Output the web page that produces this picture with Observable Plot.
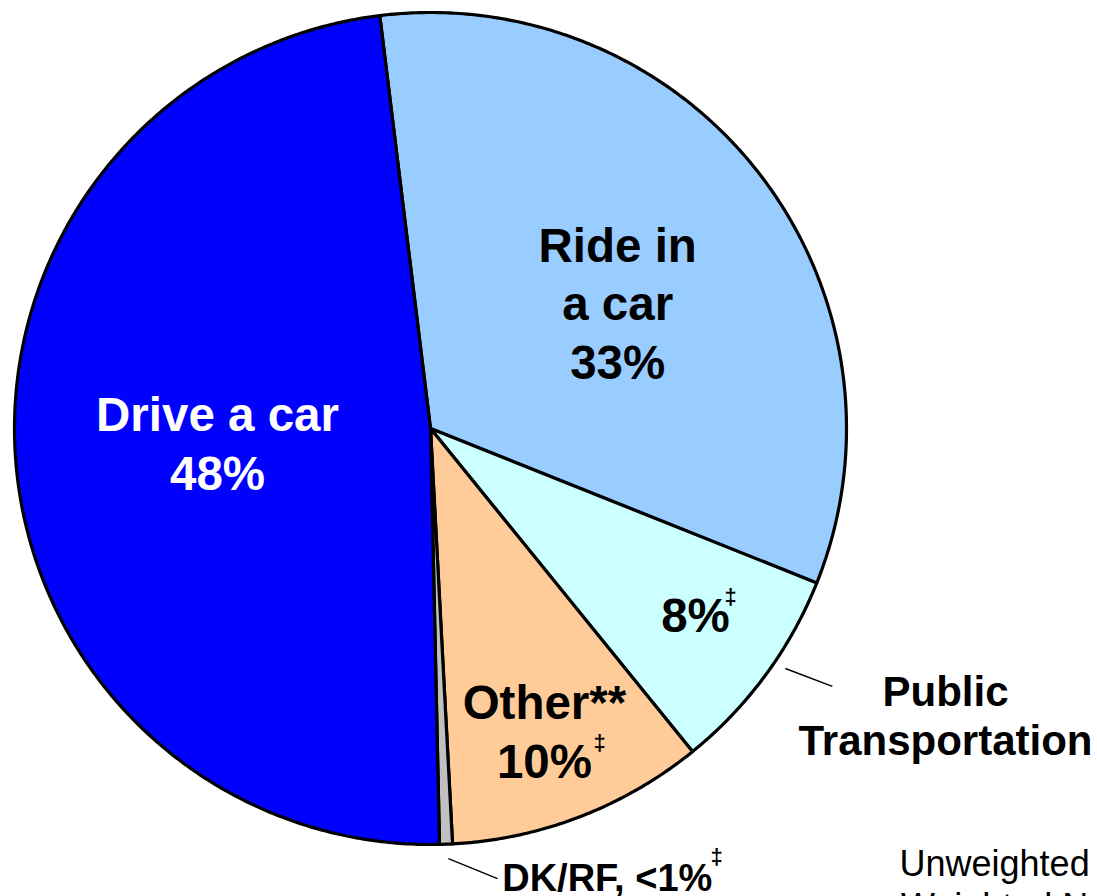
<!DOCTYPE html>
<html>
<head>
<meta charset="utf-8">
<script src="https://cdn.jsdelivr.net/npm/d3@7"></script>
<script src="https://cdn.jsdelivr.net/npm/@observablehq/plot@0.6"></script>
<style>
  html, body { margin: 0; padding: 0; background: #fff; }
  #chart { width: 1097px; height: 896px; overflow: hidden; }
</style>
</head>
<body>
<div id="chart"></div>
<script>
// ---- data ----
const categories = ["Ride in a car", "Public Transportation", "Other**", "DK/RF", "Drive a car"];
const shares = [33, 8.1, 10, 0.5, 48.4];           // percent of the pie
const sliceLabels = ["Ride in\na car\n33%", "8%", "Other**\n10%", "DK/RF, <1%", "Drive a car\n48%"];
const hasDoubleDagger = [false, true, true, true, false];

// ---- styles ----
const sliceColors = ["#99CCFF", "#CCFFFF", "#FFCC99", "#C0C0C0", "#0000FF"];
const FONT = "Liberation Sans, Arial, Helvetica, sans-serif";
const startDeg = -7;

// ---- geometry through d3.pie ----
const rad = Math.PI / 180;
const pie = d3.pie().sort(null).value(d => d.share)
  .startAngle(startDeg * rad).endAngle((startDeg + 360) * rad);
const table = categories.map((c, i) => ({category: c, share: shares[i], color: sliceColors[i]}));
const arcs = pie(table);

const polyPts = [];
for (const a of arcs) {
  const c = a.data.category;
  polyPts.push({category: c, color: a.data.color, x: 0, y: 0});
  const n = Math.max(2, Math.ceil((a.endAngle - a.startAngle) / (0.5 * rad)));
  for (let k = 0; k <= n; k++) {
    const t = a.startAngle + (a.endAngle - a.startAngle) * k / n;
    polyPts.push({category: c, color: a.data.color, x: Math.sin(t), y: Math.cos(t)});
  }
  polyPts.push({category: c, color: a.data.color, x: 0, y: 0});
}

// ---- annotation layout (data units, radius = 1) ----
const labelPos = {
  "Ride in a car": {x: 0.450, y: 0.120, size: 47.5, lh: 1.23, fill: "#000"},
  "Public Transportation": {x: 0.637, y: -0.490, size: 47.5, lh: 1.23, fill: "#000", dag: [0.707, -0.423]},
  "Other**": {x: 0.274, y: -0.839, size: 47.5, lh: 1.24, fill: "#000", dag: [0.392, -0.774]},
  "DK/RF": {x: 0.425, y: -1.111, size: 38, lh: 1.2, fill: "#000", dag: [0.673, -1.046]},
  "Drive a car": {x: -0.512, y: -0.147, size: 47.5, lh: 1.23, fill: "#fff"}
};
const labelRows = categories.map((c, i) => ({category: c, text: sliceLabels[i], ...labelPos[c]}));
const daggerRows = categories
  .map((c, i) => hasDoubleDagger[i] ? {x: labelPos[c].dag[0], y: labelPos[c].dag[1], text: "‡"} : null)
  .filter(Boolean);

const outsideLabels = [
  {text: "Public\nTransportation", x: 1.238, y: -0.786, size: 42, weight: "bold", lh: 1.19},
  {text: "Unweighted\nWeighted N", x: 1.356, y: -1.178, size: 36, weight: "normal", lh: 1.17}
];
const leaders = [
  {x1: 0.853, y1: -0.577, x2: 0.966, y2: -0.620},
  {x1: 0.043, y1: -1.034, x2: 0.161, y2: -1.082}
];

const chart = Plot.plot({
  width: 1097,
  height: 896,
  marginLeft: 14,
  marginRight: 251,
  marginTop: 12,
  marginBottom: 52,
  x: {domain: [-1, 1], axis: null},
  y: {domain: [-1, 1], axis: null},
  color: {type: "identity"},
  style: {fontFamily: FONT, background: "#fff", overflow: "visible"},
  marks: [
    Plot.line(polyPts, {
      x: "x", y: "y", z: "category", fill: "color",
      stroke: "#000", strokeWidth: 3.2, strokeLinejoin: "round"
    }),
    ...labelRows.map(d => Plot.text([d], {
      x: "x", y: "y", text: "text", fill: d.fill,
      fontSize: d.size, fontWeight: "bold", fontFamily: FONT,
      lineAnchor: "bottom", lineHeight: d.lh, textAnchor: "middle"
    })),
    Plot.text(daggerRows, {
      x: "x", y: "y", text: "text", fill: "#000",
      fontSize: 22, fontWeight: "bold", fontFamily: FONT,
      lineAnchor: "bottom", textAnchor: "start"
    }),
    ...outsideLabels.map(d => Plot.text([d], {
      x: "x", y: "y", text: "text", fill: "#000",
      fontSize: d.size, fontWeight: d.weight, fontFamily: FONT,
      lineAnchor: "bottom", lineHeight: d.lh, textAnchor: "middle"
    })),
    Plot.link(leaders, {x1: "x1", y1: "y1", x2: "x2", y2: "y2", stroke: "#000", strokeWidth: 1.5})
  ]
});
document.getElementById("chart").append(chart);
</script>
</body>
</html>
